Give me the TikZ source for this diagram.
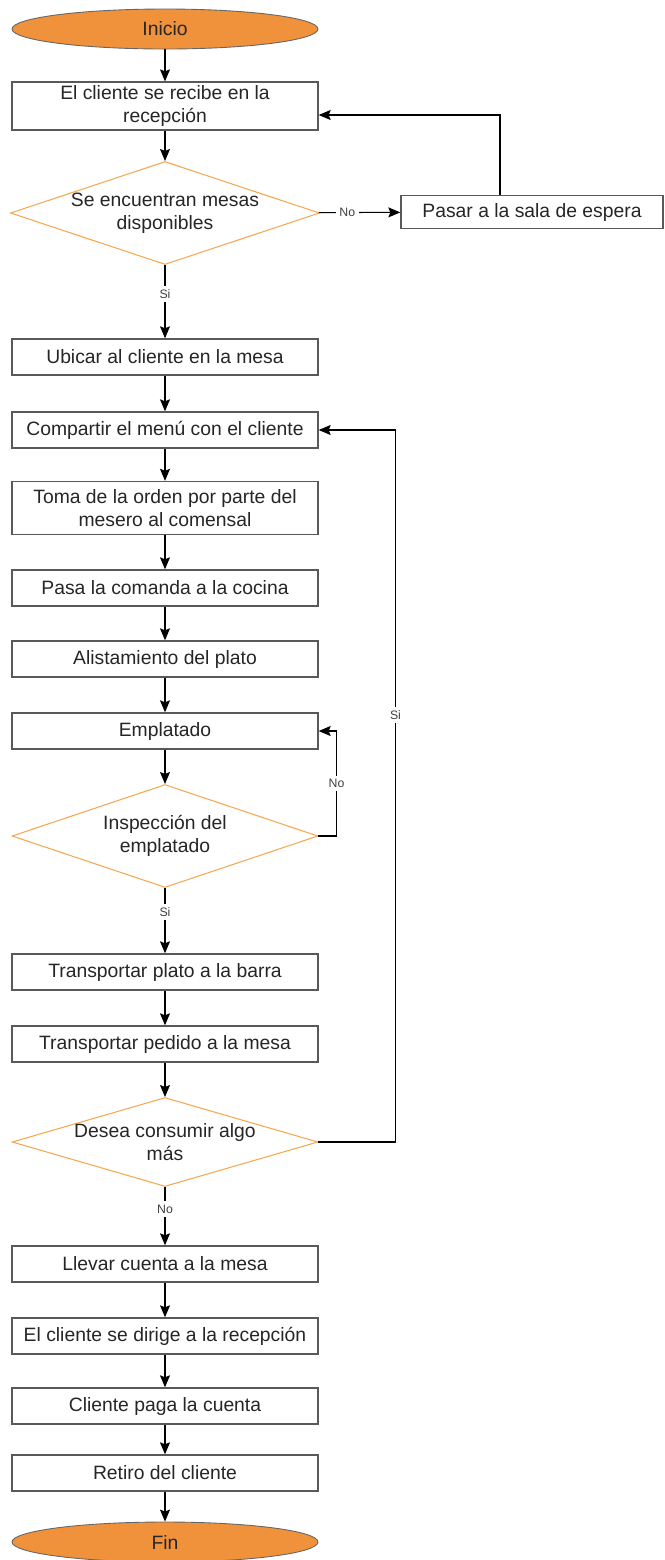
\documentclass[tikz,border=0pt]{standalone}
\usepackage{fontspec}
\setmainfont{Liberation Sans}
\usepackage{tikz}
\usetikzlibrary{arrows.meta,shapes.geometric}

\definecolor{naranja}{RGB}{240,145,60}
\definecolor{bordenaranja}{RGB}{246,168,80}

\begin{document}
\begin{tikzpicture}[>={Stealth[length=2.4mm,width=2mm,inset=0.4mm]},x=0.02cm,y=-0.02cm,
                    semithick,font=\fontsize{11}{13}\selectfont]
  \tikzstyle{proceso}=[rectangle,draw=black!65,fill=white,line width=0.8pt,text=black!85,
                       minimum width=6.12cm,minimum height=0.72cm,inner sep=2pt,align=center]
  \tikzstyle{decision}=[diamond,aspect=3,draw=bordenaranja,fill=white,line width=0.6pt,text=black!85,
                        minimum width=6.12cm,minimum height=2.06cm,inner sep=0pt,align=center]
  \tikzstyle{terminal}=[ellipse,draw=black!60,fill=naranja,line width=0.5pt,text=black!85,
                        minimum width=6.12cm,minimum height=0.8cm,inner sep=0pt]
  \tikzstyle{etiqueta}=[fill=white,inner sep=2pt,text=black!75,font=\fontsize{7}{8}\selectfont]

  \useasboundingbox (0,0) rectangle (664,1560);

  \node[terminal] (1)  at (165,29)   {Inicio};
  \node[proceso,minimum height=0.84cm] (2) at (165,106) {El cliente se recibe en la\\recepción};
  \node[decision] (3)  at (165,213)  {Se encuentran mesas\\disponibles};
  \node[proceso,minimum width=5.24cm,minimum height=0.66cm] (4) at (532,212) {Pasar a la sala de espera};
  \node[proceso] (5)   at (165,357)  {Ubicar al cliente en la mesa};
  \node[proceso] (6)   at (165,430)  {Compartir el menú con el cliente};
  \node[proceso,minimum height=1.06cm] (7) at (165,508) {Toma de la orden por parte del\\mesero al comensal};
  \node[proceso] (8)   at (165,588)  {Pasa la comanda a la cocina};
  \node[proceso] (9)   at (165,659)  {Alistamiento del plato};
  \node[proceso] (10)  at (165,731)  {Emplatado};
  \node[decision] (11) at (165,836)  {Inspección del\\emplatado};
  \node[proceso] (12)  at (165,972)  {Transportar plato a la barra};
  \node[proceso] (13)  at (165,1044) {Transportar pedido a la mesa};
  \node[decision,minimum height=1.78cm,inner sep=-4pt] (14) at (165,1142) {Desea consumir algo\\más};
  \node[proceso] (15)  at (165,1264) {Llevar cuenta a la mesa};
  \node[proceso] (16)  at (165,1336) {El cliente se dirige a la recepción};
  \node[proceso] (17)  at (165,1406) {Cliente paga la cuenta};
  \node[proceso] (18)  at (165,1473) {Retiro del cliente};
  \node[terminal] (19) at (165,1542) {Fin};

  \draw[->]
        (1)  edge (2)
        (2)  edge (3)
        (3)  edge node[etiqueta,pos=0.35] {No} (4)
        (3)  edge node[etiqueta,pos=0.4] {Si} (5)
        (5)  edge (6)
        (6)  edge (7)
        (7)  edge (8)
        (8)  edge (9)
        (9)  edge (10)
        (10) edge (11)
        (11) edge node[etiqueta,pos=0.37] {Si} (12)
        (12) edge (13)
        (13) edge (14)
        (14) edge node[etiqueta,pos=0.38] {No} (15)
        (15) edge (16)
        (16) edge (17)
        (17) edge (18)
        (18) edge (19);

  % vueltas atras
  \draw[->] ([xshift=-0.64cm]4.north) |- ([yshift=-0.18cm]2.east);
  \draw[->] (11.east) -- ++(18,0) |- node[etiqueta,pos=0.25] {No} (10.east);
  \draw[->] (14.east) -- ++(77,0) |- node[etiqueta,pos=0.3] {Si} (6.east);
\end{tikzpicture}
\end{document}
